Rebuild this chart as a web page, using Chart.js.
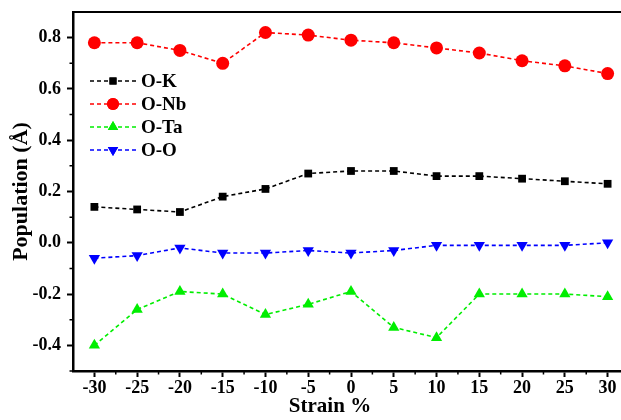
<!DOCTYPE html>
<html>
<head>
<meta charset="utf-8">
<script src="https://cdn.jsdelivr.net/npm/chart.js@4.4.1/dist/chart.umd.min.js"></script>
<style>
  html, body { margin: 0; padding: 0; background: #fff; overflow: hidden; }
  #wrap { width: 621px; height: 420px; overflow: hidden; }
</style>
</head>
<body>
<div id="wrap"><canvas id="chart" width="640" height="420"></canvas></div>
<script>
// strain values (%)
const strain = [-30, -25, -20, -15, -10, -5, 0, 5, 10, 15, 20, 25, 30];

// population values per bond
const oK  = [0.14, 0.13, 0.12, 0.18, 0.21, 0.27, 0.28, 0.28, 0.26, 0.26, 0.25, 0.24, 0.23];
const oNb = [0.78, 0.78, 0.75, 0.70, 0.82, 0.81, 0.79, 0.78, 0.76, 0.74, 0.71, 0.69, 0.66];
const oTa = [-0.40, -0.26, -0.19, -0.20, -0.28, -0.24, -0.19, -0.33, -0.37, -0.20, -0.20, -0.20, -0.21];
const oO  = [-0.06, -0.05, -0.02, -0.04, -0.04, -0.03, -0.04, -0.03, -0.01, -0.01, -0.01, -0.01, 0.00];

// tick labels
const xTicks = [-30, -25, -20, -15, -10, -5, 0, 5, 10, 15, 20, 25, 30];
const yTicks = [-0.4, -0.2, 0.0, 0.2, 0.4, 0.6, 0.8];

const FONT = '"Liberation Serif", "Times New Roman", serif';

function toPoints(ys) {
    return ys.map((y, i) => ({ x: strain[i], y: y }));
}

function makeSet(label, ys, color, style, radius, rot) {
    return {
        label: label,
        data: toPoints(ys),
        borderColor: color,
        backgroundColor: color,
        borderWidth: 1.6,
        borderDash: [4, 3],
        pointStyle: style,
        pointRadius: radius,
        pointRotation: rot || 0,
        pointBorderWidth: 0,
        fill: false,
        tension: 0
    };
}

// legend with dashed sample line and marker
const legendPlugin = {
    id: 'sampleLegend',
    afterDatasetsDraw(chart) {
        const ctx = chart.ctx;
        const x0 = 90, x1 = 137, mx = 113, tx = 141;
        const rows = [81, 104, 127, 150];
        chart.data.datasets.forEach((ds, i) => {
            const y = rows[i];
            ctx.save();
            ctx.strokeStyle = ds.borderColor;
            ctx.lineWidth = 1.6;
            ctx.setLineDash([4, 3]);
            ctx.beginPath();
            ctx.moveTo(x0, y);
            ctx.lineTo(x1, y);
            ctx.stroke();
            ctx.setLineDash([]);
            ctx.fillStyle = ds.backgroundColor;
            Chart.helpers.drawPoint(ctx, {
                pointStyle: ds.pointStyle, radius: ds.pointRadius - 0.5,
                rotation: ds.pointRotation, borderWidth: 0
            }, mx, y);
            ctx.fill();
            ctx.fillStyle = '#000';
            ctx.font = 'bold 19px ' + FONT;
            ctx.textBaseline = 'middle';
            ctx.fillText(ds.label, tx, y + 1);
            ctx.restore();
        });
    }
};

// frame top line, minor ticks, x title
const framePlugin = {
    id: 'frame',
    afterDraw(chart) {
        const ctx = chart.ctx;
        const a = chart.chartArea;
        const xs = chart.scales.x, ys = chart.scales.y;
        ctx.save();
        ctx.strokeStyle = '#000';
        ctx.lineWidth = 2;
        ctx.beginPath();
        ctx.moveTo(a.left, a.top);
        ctx.lineTo(a.right + 20, a.top);
        ctx.stroke();
        ctx.lineWidth = 1.5;
        ctx.beginPath();
        for (let i = 0; i < xTicks.length - 1; i++) {
            const px = xs.getPixelForValue((xTicks[i] + xTicks[i + 1]) / 2);
            ctx.moveTo(px, a.bottom);
            ctx.lineTo(px, a.bottom + 3.5);
        }
        const yMinor = [-0.5, -0.3, -0.1, 0.1, 0.3, 0.5, 0.7];
        yMinor.forEach(v => {
            const py = ys.getPixelForValue(v);
            ctx.moveTo(a.left, py);
            ctx.lineTo(a.left - 3.5, py);
        });
        ctx.stroke();
        ctx.fillStyle = '#000';
        ctx.font = 'bold 21px ' + FONT;
        ctx.textAlign = 'center';
        ctx.textBaseline = 'middle';
        ctx.fillText('Strain %', 330, 407);
        ctx.restore();
    }
};

new Chart(document.getElementById('chart').getContext('2d'), {
    type: 'line',
    data: {
        datasets: [
            makeSet('O-K', oK, '#000000', 'rect', 5.5),
            makeSet('O-Nb', oNb, '#ff0000', 'circle', 6.5),
            makeSet('O-Ta', oTa, '#00ee00', 'triangle', 6.5),
            makeSet('O-O', oO, '#0000ff', 'triangle', 6.5, 180)
        ]
    },
    options: {
        responsive: false,
        animation: false,
        devicePixelRatio: 1,
        layout: { padding: { top: 12, right: 11, left: 0, bottom: 0 } },
        plugins: { legend: { display: false }, tooltip: { enabled: false } },
        scales: {
            x: {
                type: 'linear',
                min: -32.5,
                max: 32.5,
                afterBuildTicks: s => { s.ticks = xTicks.map(v => ({ value: v })); },
                afterFit: s => { s.height = 49; s.paddingLeft = 0; s.paddingRight = 0; },
                grid: { drawOnChartArea: false, color: '#000', tickLength: 6, tickWidth: 2 },
                border: { color: '#000', width: 2.5 },
                ticks: {
                    color: '#000', padding: 1, maxRotation: 0, autoSkip: false,
                    font: { family: FONT, size: 18, weight: 'bold' },
                    callback: v => String(v)
                },
                title: { display: false }
            },
            y: {
                min: -0.5,
                max: 0.9,
                afterBuildTicks: s => { s.ticks = yTicks.map(v => ({ value: v })); },
                afterFit: s => { s.width = 73; s.paddingTop = 0; s.paddingBottom = 0; },
                grid: { drawOnChartArea: false, color: '#000', tickLength: 6, tickWidth: 2 },
                border: { color: '#000', width: 2.5 },
                ticks: {
                    color: '#000', padding: 6, autoSkip: false,
                    font: { family: FONT, size: 18, weight: 'bold' },
                    callback: v => Number(v).toFixed(1)
                },
                title: {
                    display: true, text: 'Population (Å)', color: '#000',
                    padding: { top: 8, bottom: 0 },
                    font: { family: FONT, size: 22, weight: 'bold' }
                }
            }
        }
    },
    plugins: [legendPlugin, framePlugin]
});
</script>
</body>
</html>
